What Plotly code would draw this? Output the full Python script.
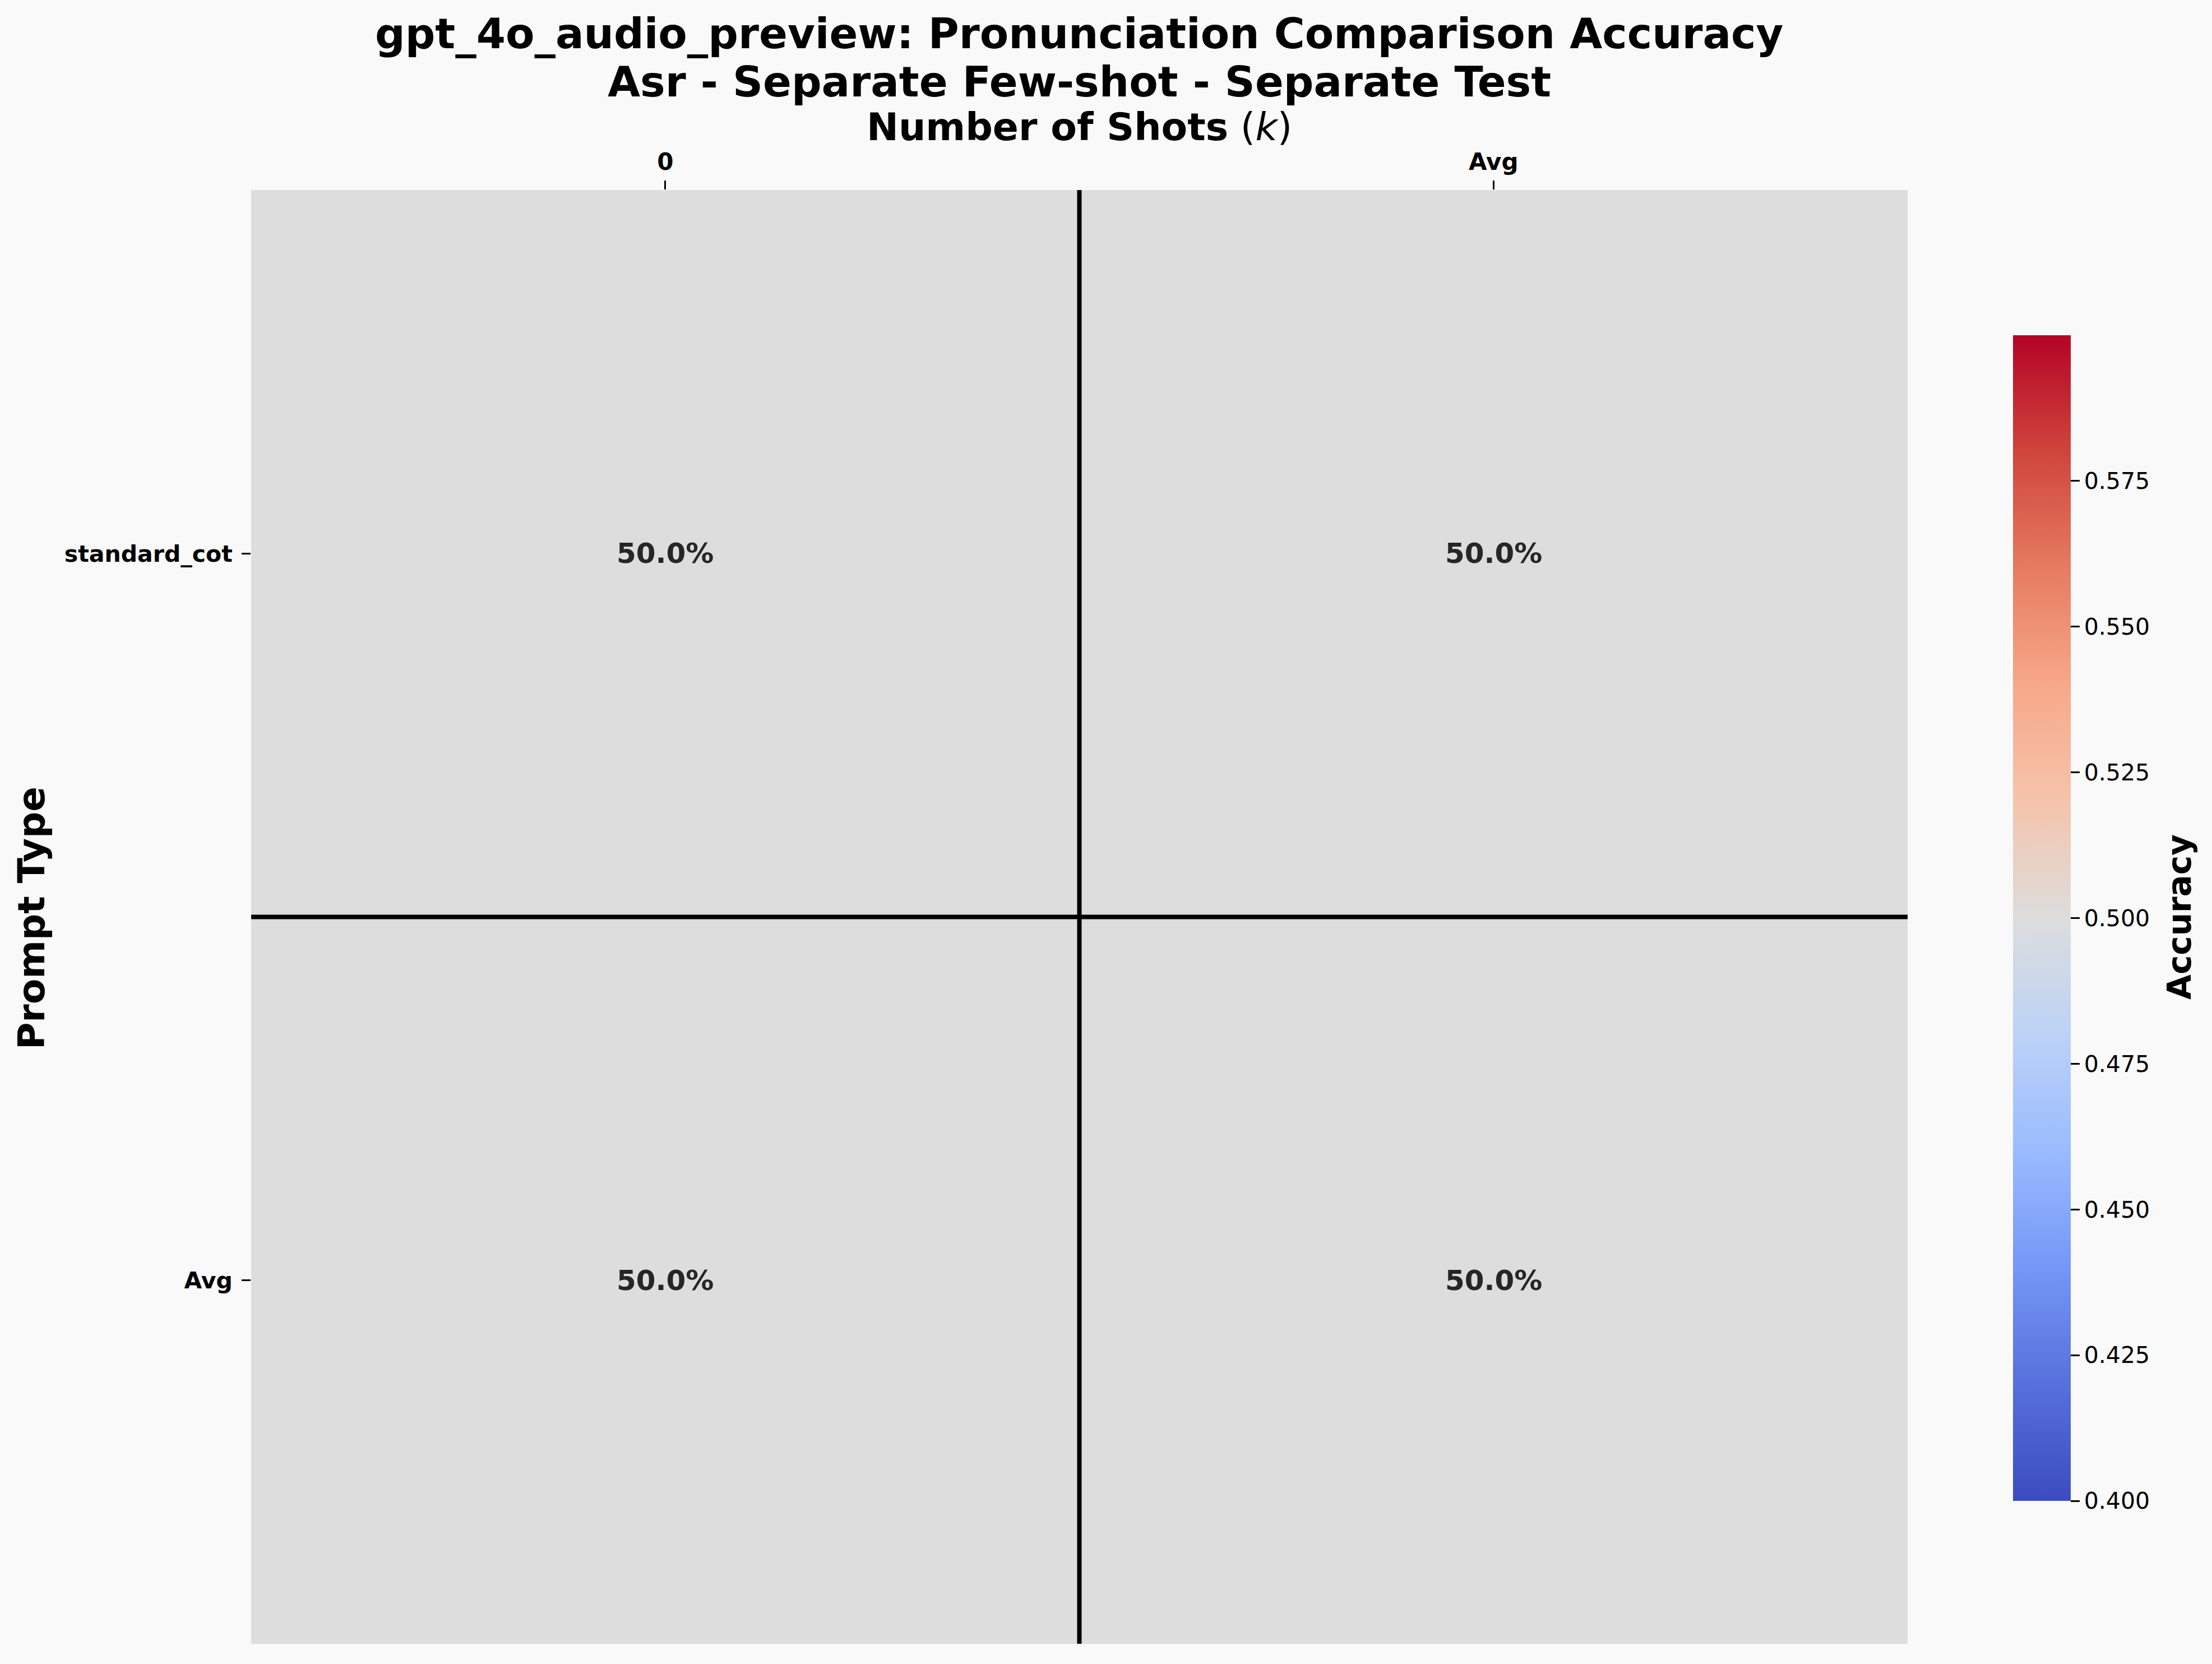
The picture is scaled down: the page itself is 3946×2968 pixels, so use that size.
import plotly.graph_objects as go

# ---- data ----
shots = ["0", "Avg"]
prompt_types = ["standard_cot", "Avg"]
acc_standard_cot = [0.5, 0.5]
acc_avg = [0.5, 0.5]
z = [acc_standard_cot, acc_avg]
cbar_ticks = [0.400, 0.425, 0.450, 0.475, 0.500, 0.525, 0.550, 0.575]

W, H = 3946, 2968
L, R, T, B = 448, 3403, 339, 2932
PW, PH = R - L, B - T
FONT = "DejaVu Sans"
BG = "#f9f9f9"

def py(ypix):
    return (B - ypix) / PH

def px(xpix):
    return (xpix - L) / PW

coolwarm = [
    [0.0, "#3b4cc0"], [0.1, "#5770db"], [0.2, "#7597f6"], [0.3, "#9abbff"],
    [0.4, "#bcd2f7"], [0.5, "#dddddd"], [0.6, "#f5c4ac"], [0.7, "#f7a889"],
    [0.8, "#e67b61"], [0.9, "#cf453c"], [1.0, "#b40426"],
]

fig = go.Figure()
fig.add_trace(go.Heatmap(
    x=shots, y=prompt_types, z=z,
    zmin=0.4, zmax=0.6, colorscale=coolwarm,
    hoverinfo="skip",
    colorbar=dict(
        thickness=103, thicknessmode="pixels",
        len=2079, lenmode="pixels",
        xpad=0, ypad=0,
        x=px(3591), xanchor="left", xref="paper",
        y=py((598 + 2677) / 2), yanchor="middle",
        outlinewidth=0,
        tickvals=cbar_ticks,
        ticktext=[f"{v:.3f}" for v in cbar_ticks],
        ticks="outside", ticklen=16, tickwidth=3, tickcolor="black",
        tickfont=dict(family=FONT, size=41, color="black"),
    ),
))

# cell annotations
for yi, row in enumerate(z):
    for xi, v in enumerate(row):
        fig.add_annotation(
            x=shots[xi], y=prompt_types[yi], xref="x", yref="y",
            text=f"<b>{v*100:.1f}%</b>", showarrow=False,
            font=dict(family=FONT, size=50, color="#262626"),
        )

# separator lines
fig.add_shape(type="line", xref="x", yref="paper", x0=0.5, x1=0.5, y0=0, y1=1,
              line=dict(color="black", width=8))
fig.add_shape(type="line", xref="paper", yref="y", x0=0, x1=1, y0=0.5, y1=0.5,
              line=dict(color="black", width=8))

# titles
fig.add_annotation(text="<b>gpt_4o_audio_preview: Pronunciation Comparison Accuracy</b>",
                   xref="paper", yref="paper", x=px(1925), y=py(60), showarrow=False,
                   yanchor="middle", font=dict(family=FONT, size=75, color="black"))
fig.add_annotation(text="<b>Asr - Separate Few-shot - Separate Test</b>",
                   xref="paper", yref="paper", x=px(1925), y=py(146), showarrow=False,
                   yanchor="middle", font=dict(family=FONT, size=75, color="black"))
fig.add_annotation(text="<b>Number of Shots</b> (<i>k</i>)",
                   xref="paper", yref="paper", x=px(1925), y=py(226), showarrow=False,
                   yanchor="middle", font=dict(family=FONT, size=68, color="black"))
fig.add_annotation(text="<b>Prompt Type</b>", textangle=-90,
                   xref="paper", yref="paper", x=px(56), y=py(1638), showarrow=False,
                   xanchor="center", yanchor="middle",
                   font=dict(family=FONT, size=66, color="black"))
fig.add_annotation(text="<b>Accuracy</b>", textangle=-90,
                   xref="paper", yref="paper", x=px(3888), y=py(1636), showarrow=False,
                   xanchor="center", yanchor="middle",
                   font=dict(family=FONT, size=58, color="black"))

fig.update_layout(
    width=W, height=H,
    margin=dict(l=L, r=W - R, t=T, b=H - B, pad=0),
    paper_bgcolor=BG, plot_bgcolor=BG,
    font=dict(family=FONT, color="black"),
    xaxis=dict(side="top", showgrid=False, zeroline=False, showline=False,
               ticks="outside", ticklen=16, tickwidth=3, tickcolor="black",
               ticklabelstandoff=2,
               tickfont=dict(family=FONT, size=42, color="black", weight="bold"),
               categoryorder="array", categoryarray=shots),
    yaxis=dict(autorange="reversed", showgrid=False, zeroline=False, showline=False,
               ticks="outside", ticklen=16, tickwidth=3, tickcolor="black",
               ticklabelstandoff=8,
               tickfont=dict(family=FONT, size=41, color="black", weight="bold"),
               categoryorder="array", categoryarray=prompt_types),
)

fig.write_html("out.html")
